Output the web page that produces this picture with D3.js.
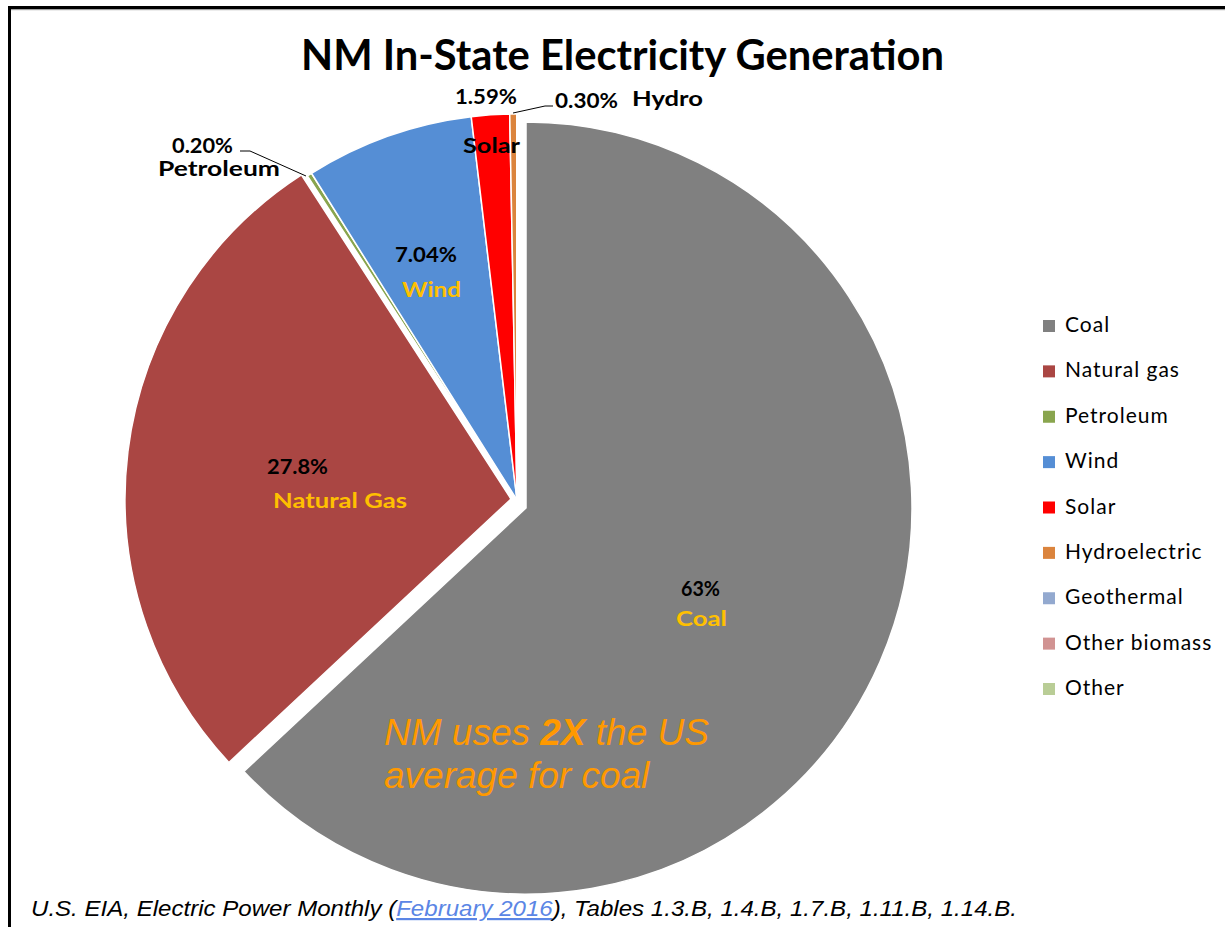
<!DOCTYPE html>
<html>
<head>
<meta charset="utf-8">
<script src="https://cdn.jsdelivr.net/npm/d3@7"></script>
<style>
  html, body { margin: 0; padding: 0; background: #fff; }
  svg { display: block; }
</style>
</head>
<body>
<div id="chart"></div>
<script>
// Data (percent of in-state generation)
const categories = ["Coal", "Natural gas", "Petroleum", "Wind", "Solar", "Hydroelectric", "Geothermal", "Other biomass", "Other"];
const shares = [63, 27.8, 0.20, 7.04, 1.59, 0.30, 0, 0, 0];
const colors = ["#808080", "#AA4643", "#89A54E", "#558ED5", "#FF0000", "#DB843D", "#93A9CF", "#D19392", "#B9CD96"];
// pulled-out slices (pixel shift x, y)
const explode = [[9, 8], [-6, -1], [0, 0], [0, 0], [0, 0], [0, 0], [0, 0], [0, 0], [0, 0]];

const W = 1225, H = 927;
const cx = 517, cy = 500, R = 386;

const svg = d3.select("#chart").append("svg")
  .attr("width", W)
  .attr("height", H);

// frame
svg.append("rect").attr("x", 8).attr("y", 6).attr("width", W - 8).attr("height", 3).attr("fill", "#000");
svg.append("rect").attr("x", 11).attr("y", 9).attr("width", W - 11).attr("height", 1.2).attr("fill", "#a0a0a0");
svg.append("rect").attr("x", 8).attr("y", 6).attr("width", 3).attr("height", H - 6).attr("fill", "#000");

// title
svg.append("text")
  .attr("x", 301).attr("y", 70)
  .attr("textLength", 643).attr("lengthAdjust", "spacingAndGlyphs")
  .style("font-family", "Lato, 'Open Sans', sans-serif")
  .style("font-weight", 700)
  .style("font-size", "42px")
  .attr("fill", "#000")
  .text("NM In-State Electricity Generation");

// pie
const pie = d3.pie().sort(null).value(d => d);
const arcs = pie(shares);
const arc = d3.arc().innerRadius(0).outerRadius(R);

const g = svg.append("g").attr("transform", `translate(${cx},${cy})`);

g.selectAll("path")
  .data(arcs)
  .enter()
  .append("path")
  .attr("transform", (d, i) => `translate(${explode[i][0]},${explode[i][1]})`)
  .attr("d", arc)
  .attr("fill", (d, i) => colors[i])
  .attr("stroke", "#fff")
  .attr("stroke-width", 1.5)
  .attr("stroke-linejoin", "round");

// leader lines
const leaders = [
  [[240, 151], [250, 151], [306, 176]],
  [[513, 113], [545, 106], [553, 106]]
];
svg.selectAll("path.leader")
  .data(leaders)
  .enter()
  .append("path")
  .attr("class", "leader")
  .attr("d", d3.line())
  .attr("fill", "none")
  .attr("stroke", "#000")
  .attr("stroke-width", 1);

// data labels: text, x, baseline, width, colour
const labels = [
  ["1.59%", 455, 104, 62, "#000"],
  ["0.30%", 555, 108, 63, "#000"],
  ["Hydro", 632, 106, 71, "#000"],
  ["Solar", 463, 153, 57, "#000"],
  ["0.20%", 172, 153, 61, "#000"],
  ["Petroleum", 158, 176, 122, "#000"],
  ["7.04%", 395, 262, 62, "#000"],
  ["Wind", 402, 297, 59, "#FFC000"],
  ["27.8%", 267, 474, 61, "#000"],
  ["Natural Gas", 273, 508, 134, "#FFC000"],
  ["63%", 681, 596, 39, "#000"],
  ["Coal", 676, 626, 51, "#FFC000"]
];
svg.selectAll("text.lbl")
  .data(labels)
  .enter()
  .append("text")
  .attr("class", "lbl")
  .attr("x", d => d[1])
  .attr("y", d => d[2])
  .attr("textLength", d => d[3])
  .attr("lengthAdjust", "spacingAndGlyphs")
  .style("font-family", "Lato, 'Open Sans', sans-serif")
  .style("font-weight", 700)
  .style("font-size", "21px")
  .attr("fill", d => d[4])
  .text(d => d[0]);

// annotation
const note = svg.append("g")
  .style("font-family", "'Liberation Sans', Arial, sans-serif")
  .style("font-style", "italic")
  .style("font-size", "37px")
  .attr("fill", "#FF9900");
const n1 = note.append("text").attr("x", 384).attr("y", 745);
n1.append("tspan").text("NM uses ");
n1.append("tspan").style("font-weight", 700).text("2X");
n1.append("tspan").text(" the US");
note.append("text").attr("x", 384).attr("y", 788).text("average for coal");

// legend
const legendY = d3.scalePoint().domain(categories).range([332, 695]);
const leg = svg.append("g")
  .selectAll("g")
  .data(categories)
  .enter()
  .append("g")
  .attr("transform", d => `translate(1043,${legendY(d)})`);
leg.append("rect")
  .attr("x", 0).attr("y", -12)
  .attr("width", 12).attr("height", 12)
  .attr("fill", (d, i) => colors[i]);
leg.append("text")
  .attr("x", 22).attr("y", 0)
  .style("font-family", "Lato, 'Open Sans', sans-serif")
  .style("font-size", "21px")
  .style("letter-spacing", "1px")
  .attr("fill", "#000")
  .text(d => d);

// source line
const src = svg.append("text")
  .attr("x", 31).attr("y", 916)
  .attr("textLength", 986).attr("lengthAdjust", "spacingAndGlyphs")
  .style("font-family", "'Liberation Sans', Arial, sans-serif")
  .style("font-style", "italic")
  .style("font-size", "22px")
  .attr("fill", "#000");
src.append("tspan").text("U.S. EIA, Electric Power Monthly (");
src.append("tspan").attr("fill", "#5B86E5").style("text-decoration", "underline").text("February 2016");
src.append("tspan").text("), Tables 1.3.B, 1.4.B, 1.7.B, 1.11.B, 1.14.B.");
</script>
</body>
</html>
